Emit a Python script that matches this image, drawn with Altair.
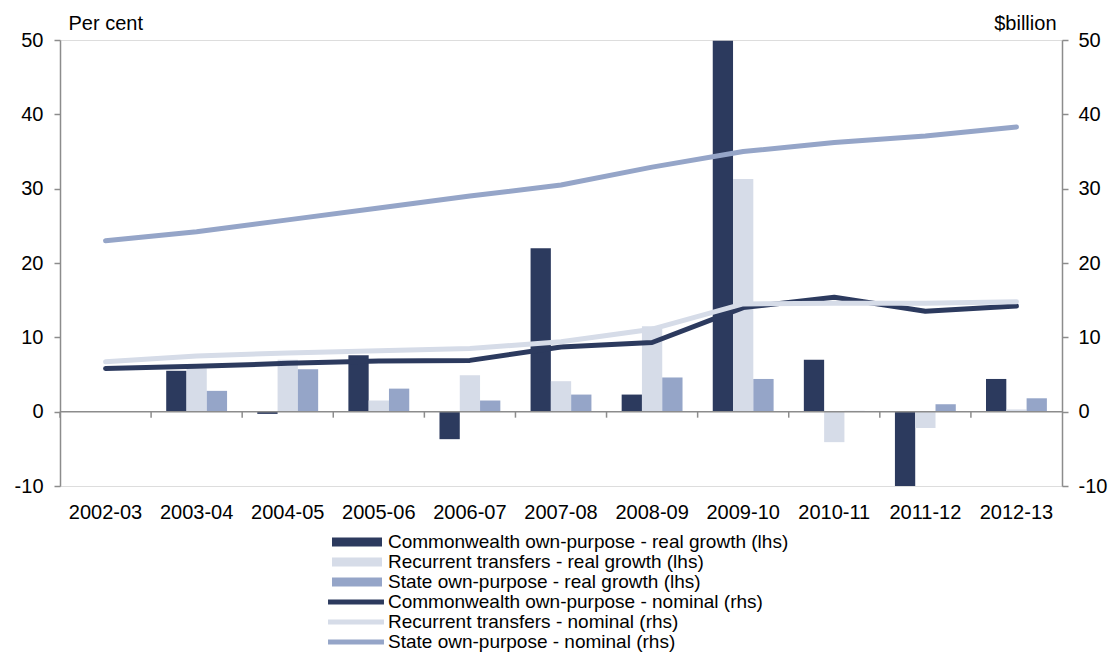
import altair as alt
import pandas as pd

years = ["2002-03", "2003-04", "2004-05", "2005-06", "2006-07", "2007-08",
         "2008-09", "2009-10", "2010-11", "2011-12", "2012-13"]
bar_series = ["Commonwealth own-purpose - real growth (lhs)",
              "Recurrent transfers - real growth (lhs)",
              "State own-purpose - real growth (lhs)"]
line_series = ["Commonwealth own-purpose - nominal (rhs)",
               "Recurrent transfers - nominal (rhs)",
               "State own-purpose - nominal (rhs)"]

cw_real = [None, 5.5, -0.3, 7.6, -3.7, 22.0, 2.3, 49.9, 7.0, -10.0, 4.4]
rt_real = [None, 5.8, 7.0, 1.5, 4.9, 4.1, 11.5, 31.3, -4.1, -2.2, 0.3]
so_real = [None, 2.8, 5.7, 3.1, 1.5, 2.3, 4.6, 4.4, 0.1, 1.0, 1.8]

cw_nom = [5.8, 6.1, 6.5, 6.8, 6.9, 8.7, 9.3, 14.0, 15.4, 13.5, 14.2]
rt_nom = [6.7, 7.5, 7.9, 8.2, 8.5, 9.4, 11.1, 14.5, 14.6, 14.6, 14.8]
so_nom = [23.0, 24.2, 25.8, 27.4, 29.0, 30.5, 32.9, 35.0, 36.2, 37.1, 38.3]

colors = ["#2C3A5E", "#D6DCE8", "#95A5C8"]
axis_grey = "#8C8C8C"
FONT = "Liberation Sans"
label_expr = "replace(datum.label, '\u2212', '-')"

bar_rows = []
for name, vals in zip(bar_series, [cw_real, rt_real, so_real]):
    for y, v in zip(years, vals):
        if v is not None:
            bar_rows.append({"year": y, "series": name, "value": v})
bar_df = pd.DataFrame(bar_rows)

line_rows = []
for name, vals in zip(line_series, [cw_nom, rt_nom, so_nom]):
    for y, v in zip(years, vals):
        line_rows.append({"year": y, "series": name, "value": v})
line_df = pd.DataFrame(line_rows)

xscale = alt.Scale(domain=years, paddingInner=0, paddingOuter=0)
ydom = [-10, 50]
yticks = [-10, 0, 10, 20, 30, 40, 50]

bars = alt.Chart(bar_df).mark_bar().encode(
    x=alt.X("year:N", sort=years, scale=xscale,
            axis=alt.Axis(orient="bottom", domain=False, ticks=False, labelAngle=0,
                          labelFontSize=20, labelFont=FONT, labelColor="black",
                          labelPadding=16, title=None)),
    xOffset=alt.XOffset("series:N", sort=bar_series,
                        scale=alt.Scale(domain=bar_series, paddingInner=0, paddingOuter=0.745)),
    y=alt.Y("value:Q", scale=alt.Scale(domain=ydom, nice=False, zero=False),
            axis=alt.Axis(orient="left", values=yticks, grid=False, domainColor=axis_grey,
                          domainWidth=1.5, tickColor=axis_grey, tickWidth=1.5, tickSize=6,
                          labelFontSize=20, labelFont=FONT, labelColor="black", labelPadding=11,
                          labelExpr=label_expr,
                          title="Per cent", titleAngle=0, titleX=8, titleY=-11,
                          titleAlign="left", titleBaseline="alphabetic", titleFontSize=20,
                          titleFont=FONT, titleFontWeight="normal", titleColor="black")),
    fill=alt.Fill("series:N", scale=alt.Scale(domain=bar_series, range=colors),
                  legend=alt.Legend(orient="none", legendX=287, legendY=492,
                                    direction="vertical", title=None,
                                    symbolType="M-2.5,-0.45H2.5V0.45H-2.5Z", symbolSize=400,
                                    symbolStrokeWidth=0, symbolOpacity=1,
                                    labelFontSize=19, labelFont=FONT, labelColor="black",
                                    labelOffset=21, rowPadding=0, padding=0, labelLimit=0)),
)

zero_df = pd.DataFrame({"v": [0]})
zero_line = alt.Chart(zero_df).mark_rule(color=axis_grey, strokeWidth=1.5).encode(
    y=alt.Y("v:Q", scale=alt.Scale(domain=ydom, nice=False, zero=False), axis=None)
)

tick_df = pd.DataFrame({"year": years, "v": [0] * len(years)})
xticks = alt.Chart(tick_df).mark_rule(color=axis_grey, strokeWidth=1.5, y2Offset=6).encode(
    x=alt.X("year:N", sort=years, scale=xscale, bandPosition=0, axis=None),
    y=alt.Y("v:Q", scale=alt.Scale(domain=ydom, nice=False, zero=False), axis=None),
    y2=alt.Y2("v"),
)

lines = alt.Chart(line_df).mark_line(strokeWidth=5, strokeCap="round", strokeJoin="round").encode(
    x=alt.X("year:N", sort=years, scale=xscale, axis=None),
    y=alt.Y("value:Q", scale=alt.Scale(domain=ydom, nice=False, zero=False),
            axis=alt.Axis(orient="right", values=yticks, grid=False, domainColor=axis_grey,
                          domainWidth=1.5, tickColor=axis_grey, tickWidth=1.5, tickSize=6,
                          labelFontSize=20, labelFont=FONT, labelColor="black", labelPadding=10,
                          labelExpr=label_expr,
                          title="$billion", titleAngle=0, titleX=-6, titleY=-11,
                          titleAlign="right", titleBaseline="alphabetic", titleFontSize=20,
                          titleFont=FONT, titleFontWeight="normal", titleColor="black")),
    stroke=alt.Stroke("series:N", scale=alt.Scale(domain=line_series, range=colors),
                      legend=alt.Legend(orient="none", legendX=286, legendY=552,
                                        direction="vertical", title=None,
                                        symbolType="M-3.73,0H3.73", symbolSize=225,
                                        symbolStrokeWidth=5, symbolOpacity=1,
                                        labelFontSize=19, labelFont=FONT, labelColor="black",
                                        labelOffset=22, rowPadding=0, padding=0, labelLimit=0)),
)

chart = alt.layer(bars, zero_line, xticks, lines).resolve_scale(
    y="independent"
).resolve_axis(
    x="independent"
).properties(
    width=1002,
    height=446,
    autosize=alt.AutoSizeParams(type="none"),
    padding={"left": 52, "top": 32, "right": 46, "bottom": 168},
).configure_view(stroke=None).configure(background="white")

chart.save("out.html", embed_options={"renderer": "svg", "actions": False})
